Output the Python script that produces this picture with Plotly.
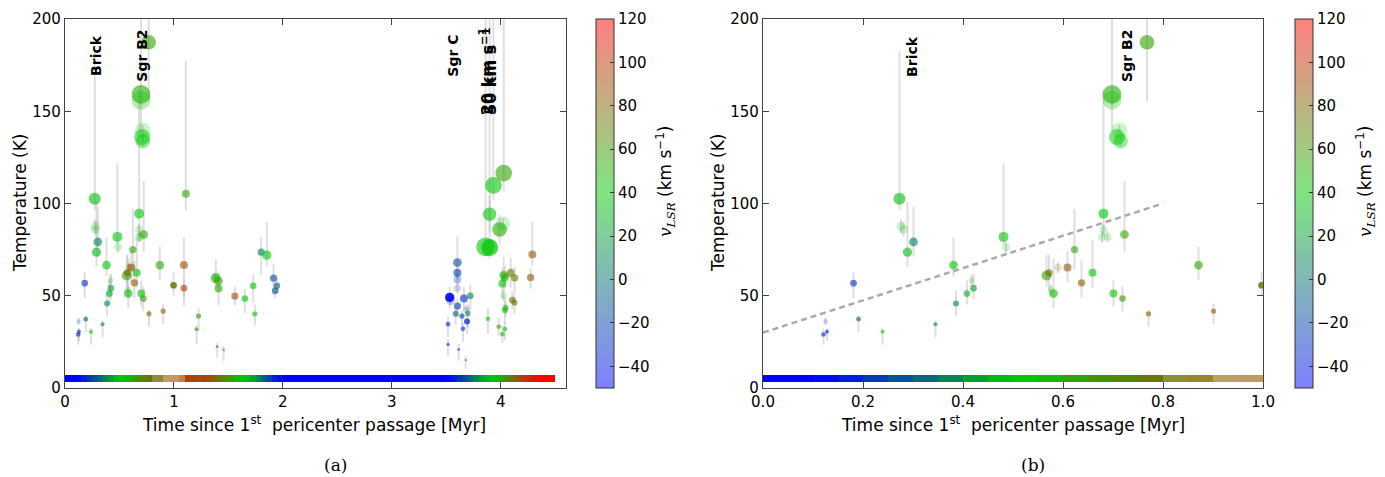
import plotly.graph_objects as go

# ---------------- data ----------------
t_myr = [0.273, 0.276, 0.281, 0.301, 0.289, 0.381, 0.481, 0.486, 0.181, 0.191,
         0.125, 0.121, 0.128, 0.239, 0.345, 0.386, 0.408, 0.417, 0.421, 0.567,
         0.572, 0.590, 0.609, 0.623, 0.581, 0.576, 0.637, 0.659, 0.681, 0.681,
         0.678, 0.689, 0.723, 0.701, 0.719, 0.771, 0.871, 0.901, 0.997, 0.698,
         0.698, 0.713, 0.708, 0.715, 0.768,
         1.110, 1.092, 1.092, 1.226, 1.208, 1.397, 1.456, 1.376, 1.385, 1.410,
         1.410, 1.560, 1.651, 1.728, 1.743, 1.801, 1.853, 1.915, 1.945, 1.930,
         3.603, 3.603, 3.603, 3.603, 3.532, 3.540, 3.663, 3.722, 3.603, 3.685,
         3.587, 3.645, 3.700, 3.691, 3.517, 3.654, 3.517, 3.615, 3.679,
         3.933, 4.028, 3.899, 3.990, 4.021, 3.862, 3.899, 3.883, 3.982, 4.016,
         4.039, 4.039, 4.045, 4.028, 4.016, 4.028, 4.039, 4.092, 4.128, 4.107,
         4.128, 4.291, 4.275]
temp_k = [102.6, 87.7, 86.0, 79.2, 73.6, 66.6, 81.9, 76.3, 56.8, 37.3,
          36.1, 29.0, 30.5, 30.5, 34.6, 45.8, 51.2, 58.3, 54.1, 61.0,
          62.4, 65.3, 65.3, 75.0, 51.2, 53.0, 57.0, 62.4, 94.5, 85.9,
          81.9, 81.9, 83.2, 51.2, 48.5, 40.2, 66.6, 41.7, 55.7, 159.1,
          156.0, 139.6, 136.0, 133.8, 187.4,
          105.3, 66.6, 54.1, 39.0, 31.9, 22.4, 20.7, 59.4, 59.7, 58.1,
          53.9, 49.8, 48.5, 55.4, 40.2, 73.6, 72.0, 59.5, 55.4, 52.7,
          68.0, 62.4, 58.8, 54.0, 49.1, 47.5, 48.5, 50.0, 44.4, 42.2,
          40.2, 39.0, 40.4, 36.1, 34.6, 32.1, 23.6, 20.9, 15.2,
          109.8, 116.5, 94.2, 85.9, 89.0, 76.5, 76.1, 37.5, 33.2, 29.2,
          31.9, 42.2, 43.5, 49.8, 56.7, 61.1, 59.9, 62.4, 59.7, 47.6,
          46.2, 72.3, 59.9]
err_up = [80, 4, 4, 19, 27, 15, 40, 3, 6, 2,
          2, 3, 2, 2, 2, 7, 7, 3, 8, 11,
          10, 3, 9, 22, 19, 3, 12, 18, 67, 3,
          3, 3, 29, 7, 6.5, 2, 10, 4, 7, 60,
          3, 3, 3, 3, 15,
          72, 15, 5, 4, 2, 2, 2, 3, 10, 5,
          5, 5, 5, 6, 5, 8, 18, 8, 4, 3,
          14, 4, 3, 3, 6, 3, 6, 6, 4, 3,
          3, 3, 5, 3, 4, 3, 3, 3, 2,
          100, 100, 10, 8, 3, 130, 130, 6, 5, 5,
          4, 5, 5, 3, 8, 10, 6, 8, 6, 5,
          5, 18, 5]
err_dn = [6, 4, 4, 8, 8, 6, 4, 3, 8, 7,
          2, 5.5, 5, 7, 7, 7, 6, 3, 6, 6,
          10, 3, 8, 11, 8, 3, 8, 8, 12, 3,
          3, 3, 9.5, 7, 7, 7, 8, 7, 6, 20,
          3, 3, 3, 3, 32,
          9, 22, 5, 8, 8, 6, 6, 3, 5, 5,
          9, 5, 8, 9, 6, 12, 6, 9, 4, 4,
          9, 4, 3, 3, 6, 3, 6, 8, 6, 3,
          6, 6, 8, 7, 7, 7, 6, 6, 5,
          8, 10, 10, 8, 3, 5, 6, 8, 5, 5,
          6, 7, 5, 3, 8, 10, 6, 8, 8, 5,
          6, 6, 6]
v_lsr = [35, 35, 35, 5, 35, 38, 38, 35, -28, -10,
         -35, -35, -35, 38, 5, 12, 30, 25, 22, 55,
         80, 80, 85, 55, 45, 40, 85, 38, 38, 38,
         38, 38, 55, 40, 60, 85, 55, 85, 72, 50,
         45, 40, 40, 40, 55,
         55, 90, 100, 60, 55, 100, 40, 45, 50, 55,
         50, 90, 38, 38, 38, 5, 38, -15, -8, -10,
         -15, -22, -22, -22, -50, -40, -30, 10, -25, -30,
         -5, -25, 15, -40, -35, -30, -35, -30, -40,
         38, 55, 38, 50, 45, 38, 40, 38, 60, 38,
         38, 40, 50, 40, 38, 55, 45, 72, 72, 80,
         72, 85, 85]
mass_size = [12, 9.3, 8.7, 8.7, 9.3, 8.7, 10, 8, 6.7, 4.7,
             4.7, 4.7, 4, 4, 4, 6, 6.7, 6, 6.7, 10,
             7.3, 7.3, 8, 7.3, 8.7, 6.7, 7.3, 8, 10, 8,
             8, 8, 8.7, 8, 6.7, 5.3, 8.7, 5.3, 6.7, 18.7,
             18.7, 16, 16, 14.7, 14.7,
             8, 8, 6.7, 5.3, 4, 2.7, 2.7, 10, 9.3, 8.7,
             8, 7.3, 6.7, 6.7, 5.3, 7.3, 9.3, 7.3, 6.7, 6.7,
             8.7, 8, 8, 7.3, 9.3, 9.3, 8, 6.7, 7.3, 6.7,
             6, 5.3, 5.3, 6, 4.7, 4.7, 3.3, 2.7, 2,
             16.7, 16.7, 13.3, 14.7, 14.7, 18.7, 17, 4.7, 4.7, 4.7,
             4.7, 6, 6, 6.7, 8, 8.7, 8, 8, 7.3, 6.7,
             6, 8, 7.3]
fit_alpha = [0.6, 0.2, 0.2, 0.6, 0.6, 0.6, 0.6, 0.2, 0.6, 0.6,
             0.2, 0.6, 0.6, 0.6, 0.6, 0.6, 0.6, 0.2, 0.6, 0.6,
             0.6, 0.2, 0.6, 0.6, 0.6, 0.2, 0.6, 0.6, 0.6, 0.2,
             0.2, 0.2, 0.6, 0.6, 0.6, 0.6, 0.6, 0.6, 0.85, 0.6,
             0.3, 0.2, 0.5, 0.4, 0.6,
             0.6, 0.6, 0.6, 0.6, 0.6, 0.6, 0.6, 0.2, 0.6, 0.6,
             0.6, 0.6, 0.6, 0.6, 0.6, 0.6, 0.6, 0.6, 0.6, 0.6,
             0.6, 0.6, 0.3, 0.2, 0.9, 0.2, 0.6, 0.6, 0.6, 0.2,
             0.6, 0.6, 0.6, 0.7, 0.6, 0.6, 0.6, 0.6, 0.6,
             0.6, 0.6, 0.6, 0.6, 0.2, 0.6, 0.7, 0.6, 0.6, 0.6,
             0.6, 0.6, 0.6, 0.2, 0.6, 0.6, 0.6, 0.6, 0.6, 0.6,
             0.6, 0.6, 0.6]

# orbit model v_LSR strip along time
strip_start = [0.00, 0.10, 0.15, 0.20, 0.25, 0.30, 0.35, 0.40, 0.45, 0.50,
               0.55, 0.60, 0.65, 0.70, 0.75, 0.80, 0.85, 0.90, 0.95, 1.00,
               1.05, 1.10, 1.20, 1.30, 1.35, 1.40, 1.45, 1.50, 1.55, 1.60,
               1.65, 1.70, 1.75, 1.80, 1.85, 1.90, 1.95, 2.00, 3.50, 3.55,
               3.60, 3.65, 3.70, 3.75, 3.80, 3.85, 3.90, 3.95, 4.00, 4.05,
               4.10, 4.15, 4.20, 4.25, 4.30, 4.35]
strip_end = [0.10, 0.15, 0.20, 0.25, 0.30, 0.35, 0.40, 0.45, 0.50, 0.55,
             0.60, 0.65, 0.70, 0.75, 0.80, 0.85, 0.90, 0.95, 1.00, 1.05,
             1.10, 1.20, 1.30, 1.35, 1.40, 1.45, 1.50, 1.55, 1.60, 1.65,
             1.70, 1.75, 1.80, 1.85, 1.90, 1.95, 2.00, 3.50, 3.55, 3.60,
             3.65, 3.70, 3.75, 3.80, 3.85, 3.90, 3.95, 4.00, 4.05, 4.10,
             4.15, 4.20, 4.25, 4.30, 4.35, 4.50]
strip_v = [-50, -45, -36, -24, -12, -2, 10, 22, 34, 40,
           46, 56, 62, 67, 72, 75, 78, 81, 85, 88,
           90, 93, 92, 87, 80, 72, 64, 56, 48, 42,
           36, 24, 10, -5, -20, -33, -43, -50, -46, -38,
           -26, -14, -2, 10, 22, 33, 40, 48, 58, 68,
           78, 88, 97, 106, 113, 120]
strip_alpha = [1, 1, 1, 1, 1, 1, 1, 1, 1, 1,
               1, 1, 1, 1, 1, 0.8, 0.8, 0.6, 0.6, 0.6,
               0.7, 1, 1, 1, 1, 1, 1, 1, 1, 1,
               1, 1, 1, 1, 1, 1, 1, 1, 1, 1,
               1, 1, 1, 1, 1, 1, 1, 1, 1, 1,
               1, 1, 1, 1, 1, 1]

# linear trend in panel (b)
trend_t = [0.0, 0.8]
trend_T = [30, 100]

# labels
labels_a = ["Brick", "Sgr B2", "Sgr C"]
labels_a_t = [0.285, 0.705, 3.56]
labels_b = ["Brick", "Sgr B2"]
labels_b_t = [0.298, 0.728]
km_labels = ["20 km s<sup>\u22121</sup>", "50 km s<sup>\u22121</sup>"]
km_labels_t = [3.87, 3.905]

V_MIN, V_MAX = -50, 120

# ---------------- styling ----------------
W, H = 1385, 477
FONT = "DejaVu Sans"
cscale = [[0.0, "rgb(0,0,255)"], [90 / 170, "rgb(0,200,0)"], [1.0, "rgb(255,0,0)"]]
cscale_faded = [[0.0, "rgba(0,0,255,0.5)"], [90 / 170, "rgba(0,200,0,0.5)"],
                [1.0, "rgba(255,0,0,0.5)"]]

def px(x):
    return x / W

def py(y):
    return 1 - y / H

y_dom = [py(388), py(19)]
xa_dom = [px(65), px(566)]
xb_dom = [px(763), px(1263)]

fig = go.Figure()

for xa, ya in (("x", "y"), ("x2", "y2")):
    fig.add_trace(go.Bar(
        x=strip_start, y=[4] * len(strip_start), base=3,
        width=[e - s for s, e in zip(strip_start, strip_end)], offset=0,
        marker=dict(color=strip_v, colorscale=cscale, cmin=V_MIN, cmax=V_MAX,
                    opacity=strip_alpha, line=dict(width=0)),
        xaxis=xa, yaxis=ya, showlegend=False, hoverinfo="skip"))
    fig.add_trace(go.Scatter(
        x=t_myr, y=temp_k, mode="markers", xaxis=xa, yaxis=ya, showlegend=False,
        error_y=dict(type="data", symmetric=False, array=err_up, arrayminus=err_dn,
                     color="rgba(185,185,185,0.45)", thickness=2, width=0),
        marker=dict(color=v_lsr, colorscale=cscale, cmin=V_MIN, cmax=V_MAX,
                    size=mass_size, opacity=fit_alpha, line=dict(width=0)),
        cliponaxis=True))

fig.add_trace(go.Scatter(
    x=trend_t, y=trend_T, mode="lines", xaxis="x2", yaxis="y2", showlegend=False,
    line=dict(color="rgb(170,170,170)", width=2.5, dash="6px,4px")))

# colorbars
for cx in (596, 1295):
    fig.add_trace(go.Scatter(
        x=[None], y=[None], mode="markers", showlegend=False,
        marker=dict(color=[0], colorscale=cscale_faded, cmin=V_MIN, cmax=V_MAX,
                    showscale=True,
                    colorbar=dict(
                        x=px(cx), xanchor="left", y=py(388), yanchor="bottom",
                        xpad=0, ypad=0,
                        len=(388 - 19) / H, lenmode="fraction",
                        thickness=18, thicknessmode="pixels",
                        outlinewidth=1, outlinecolor="#333",
                        ticks="inside", ticklen=4, tickcolor="#333",
                        tickvals=[-40, -20, 0, 20, 40, 60, 80, 100, 120],
                        ticktext=["\u221240", "\u221220", "0", "20", "40", "60", "80", "100", "120"],
                        tickfont=dict(family=FONT, size=15, color="black")))))

axis_common = dict(showline=True, linecolor="#444", linewidth=1.2, mirror="ticks",
                   ticks="inside", ticklen=6, tickcolor="#444", showgrid=False,
                   zeroline=False, automargin=False,
                   tickfont=dict(family=FONT, size=15, color="black"))

fig.update_layout(
    width=W, height=H, autosize=False,
    margin=dict(l=0, r=0, t=0, b=0, pad=0, autoexpand=False),
    paper_bgcolor="white", plot_bgcolor="white",
    bargap=0, barmode="overlay",
    font=dict(family=FONT, color="black"),
    xaxis=dict(domain=xa_dom, range=[0, 4.6], tickvals=[0, 1, 2, 3, 4], anchor="y", **axis_common),
    yaxis=dict(domain=y_dom, range=[0, 200], tickvals=[0, 50, 100, 150, 200], anchor="x", **axis_common),
    xaxis2=dict(domain=xb_dom, range=[0, 1], tickvals=[0, 0.2, 0.4, 0.6, 0.8, 1.0],
                ticktext=["0.0", "0.2", "0.4", "0.6", "0.8", "1.0"], anchor="y2", **axis_common),
    yaxis2=dict(domain=y_dom, range=[0, 200], tickvals=[0, 50, 100, 150, 200], anchor="x2", **axis_common),
)

CENTER = dict(xanchor="center", yanchor="middle", showarrow=False)
ann = []
for name, tt in zip(labels_a, labels_a_t):
    ann.append(dict(x=tt, y=180, xref="x", yref="y", text="<b>%s</b>" % name, textangle=-90,
                    font=dict(family=FONT, size=14, color="black"), **CENTER))
for name, tt in zip(km_labels, km_labels_t):
    ann.append(dict(x=tt, y=172, xref="x", yref="y", text="<b>%s</b>" % name, textangle=-90,
                    font=dict(family=FONT, size=16, color="black"), **CENTER))
for name, tt in zip(labels_b, labels_b_t):
    ann.append(dict(x=tt, y=180, xref="x2", yref="y2", text="<b>%s</b>" % name, textangle=-90,
                    font=dict(family=FONT, size=14, color="black"), **CENTER))

xt = "Time since 1<sup>st</sup>  pericenter passage [Myr]"
cbt = ("<span style='font-family:DejaVu Serif'><i>v<sub>LSR</sub></i></span>"
       " (km s<sup>\u22121</sup>)")
for cx, ylab_x, cbx in ((314, 20, 665), (1013, 718, 1365)):
    ann.append(dict(x=px(cx), y=py(424), xref="paper", yref="paper", text=xt,
                    font=dict(family=FONT, size=17, color="black"), **CENTER))
    ann.append(dict(x=px(ylab_x), y=py(203), xref="paper", yref="paper", text="Temperature (K)",
                    textangle=-90, font=dict(family=FONT, size=17, color="black"), **CENTER))
    ann.append(dict(x=px(cbx), y=py(182), xref="paper", yref="paper", text=cbt,
                    textangle=-90, font=dict(family=FONT, size=17, color="black"), **CENTER))
for cx, cap in ((335, "(a)"), (1033, "(b)")):
    ann.append(dict(x=px(cx), y=py(465), xref="paper", yref="paper", text=cap,
                    font=dict(family="DejaVu Serif", size=17, color="black"), **CENTER))
fig.update_layout(annotations=ann)

fig.write_html("out.html", config={"displayModeBar": False},
               post_script="document.body.style.margin='0px';document.body.style.overflow='hidden';")
